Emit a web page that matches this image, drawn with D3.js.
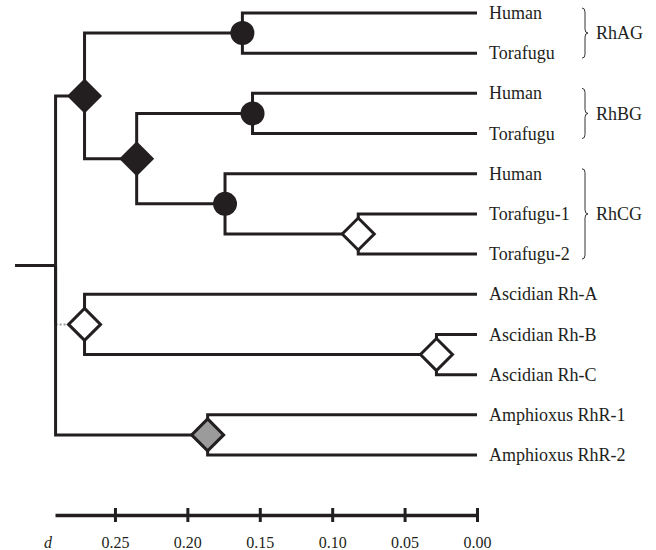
<!DOCTYPE html>
<html>
<head>
<meta charset="utf-8">
<script src="https://cdn.jsdelivr.net/npm/d3@7"></script>
<style>
  body { margin: 0; background: #fff; }
  svg { display: block; }
</style>
</head>
<body>
<div id="chart"></div>
<script>
// Rh gene tree – distance scale d runs right to left (0.00 at the tips)

const nodeIds   = ['root', 'v', 'ag', 'agH', 'agT', 'bc', 'bg', 'bgH', 'bgT', 'cg', 'cgH', 'cgT', 'cgT1', 'cgT2',
                   'asc', 'ascA', 'ascBC', 'ascB', 'ascC', 'amph', 'amph1', 'amph2'];
const parentIds = [null, 'root', 'v', 'ag', 'ag', 'v', 'bc', 'bg', 'bg', 'bc', 'cg', 'cg', 'cgT', 'cgT',
                   'root', 'asc', 'asc', 'ascBC', 'ascBC', 'root', 'amph', 'amph'];
const nodeDist  = [0.291, 0.271, 0.162, 0, 0, 0.235, 0.155, 0, 0, 0.174, 0, 0.082, 0, 0,
                   0.271, 0, 0.028, 0, 0, 0.186, 0, 0];
const nodeMarks = ['', 'dblack', 'circle', '', '', 'dblack', 'circle', '', '', 'circle', '', 'dopen', '', '',
                   'dopen', '', 'dopen', '', '', 'dgrey', '', ''];
const leafLabels = ['', '', '', 'Human', 'Torafugu', '', '', 'Human', 'Torafugu', '', 'Human', '', 'Torafugu-1', 'Torafugu-2',
                    '', 'Ascidian Rh-A', '', 'Ascidian Rh-B', 'Ascidian Rh-C', '', 'Amphioxus RhR-1', 'Amphioxus RhR-2'];
const dottedLinks = ['asc'];
const rootStubDist = 0.319;

const groupNames = ['RhAG', 'RhBG', 'RhCG'];
const groupFirst = ['agH', 'bgH', 'cgH'];
const groupLast  = ['agT', 'bgT', 'cgT2'];

const tickValues = [0.25, 0.20, 0.15, 0.10, 0.05, 0.00];
const axisLeftDist = 0.2914;

const width = 656, height = 550;
const ink = '#231f20';
const serif = '"Liberation Serif", "Times New Roman", Times, serif';

const svg = d3.select('#chart').append('svg')
    .attr('width', width)
    .attr('height', height);

const table = nodeIds.map((id, i) => ({
    id, parent: parentIds[i], dist: nodeDist[i], mark: nodeMarks[i], label: leafLabels[i]
}));
const root = d3.stratify().id(d => d.id).parentId(d => d.parent)(table);

const x = d3.scaleLinear().domain([axisLeftDist, 0]).range([55, 477]);
const y = d3.scalePoint().domain(root.leaves().map(d => d.id)).range([13, 455]);

root.eachAfter(n => {
    n.py = n.children ? (n.children[0].py + n.children[n.children.length - 1].py) / 2 : y(n.id);
    n.px = x(n.data.dist);
});

// branches
const links = svg.append('g').attr('fill', 'none').attr('stroke', ink).attr('stroke-width', 3);

links.append('path')
    .attr('d', `M${x(rootStubDist)},${root.py}H${root.px}`);

root.descendants().filter(n => n.parent).forEach(n => {
    const p = n.parent;
    if (dottedLinks.includes(n.id)) {
        links.append('path').attr('d', `M${p.px},${p.py}V${n.py}`);
        links.append('path')
            .attr('d', `M${p.px},${n.py}H${n.px}`)
            .attr('stroke', '#9a9a9a')
            .attr('stroke-width', 2)
            .attr('stroke-dasharray', '2,2');
    } else {
        links.append('path')
            .attr('d', `M${p.px},${p.py}V${n.py}H${n.px}`)
            .attr('stroke-linejoin', 'miter');
    }
});

// node markers
const diamond = r => `M0,${-r}L${r},0L0,${r}L${-r},0Z`;
const marks = svg.append('g');
root.descendants().filter(n => n.data.mark).forEach(n => {
    const g = marks.append('g').attr('transform', `translate(${n.px},${n.py})`);
    if (n.data.mark === 'circle') {
        g.append('circle').attr('r', 12).attr('fill', ink);
    } else if (n.data.mark === 'dblack') {
        g.append('path').attr('d', diamond(17.5)).attr('fill', ink);
    } else {
        g.append('path').attr('d', diamond(16))
            .attr('fill', n.data.mark === 'dgrey' ? '#9b9b9b' : '#fff')
            .attr('stroke', ink)
            .attr('stroke-width', 3)
            .attr('stroke-linejoin', 'miter');
    }
});

// tip labels
svg.append('g')
    .selectAll('text')
    .data(root.leaves())
    .join('text')
    .attr('x', 489)
    .attr('y', d => d.py)
    .attr('dy', '0.34em')
    .attr('font-family', serif)
    .attr('font-size', 18)
    .attr('fill', ink)
    .text(d => d.data.label);

// group braces
const leafY = id => root.find(n => n.id === id).py;
const brace = (bx, y0, y1) => {
    const ym = (y0 + y1) / 2, w = 3;
    return `M${bx},${y0}Q${bx + w},${y0} ${bx + w},${y0 + 4}L${bx + w},${ym - 4}Q${bx + w},${ym} ${bx + 2 * w},${ym}` +
        `Q${bx + w},${ym} ${bx + w},${ym + 4}L${bx + w},${y1 - 4}Q${bx + w},${y1} ${bx},${y1}`;
};
groupNames.forEach((name, i) => {
    const y0 = leafY(groupFirst[i]) - 5, y1 = leafY(groupLast[i]) + 5;
    svg.append('path')
        .attr('d', brace(582, y0, y1))
        .attr('fill', 'none')
        .attr('stroke', '#333')
        .attr('stroke-width', 1);
    svg.append('text')
        .attr('x', 596)
        .attr('y', (y0 + y1) / 2)
        .attr('dy', '0.34em')
        .attr('font-family', serif)
        .attr('font-size', 18)
        .attr('fill', ink)
        .text(name);
});

// distance scale
const axisG = svg.append('g')
    .attr('transform', 'translate(0,515)')
    .call(d3.axisBottom(x).tickValues(tickValues).tickFormat(d3.format('.2f')).tickSizeOuter(0));

axisG.select('.domain').attr('stroke', ink).attr('stroke-width', 3.5);
axisG.selectAll('.tick line').attr('y1', -7).attr('y2', 7).attr('stroke', ink).attr('stroke-width', 3);
axisG.selectAll('.tick text')
    .attr('y', 33)
    .attr('dy', 0)
    .attr('font-family', serif)
    .attr('font-size', 16)
    .attr('fill', ink);

svg.append('text')
    .attr('x', 48)
    .attr('y', 548)
    .attr('text-anchor', 'middle')
    .attr('font-family', serif)
    .attr('font-style', 'italic')
    .attr('font-size', 16)
    .attr('fill', ink)
    .text('d');
</script>
</body>
</html>
